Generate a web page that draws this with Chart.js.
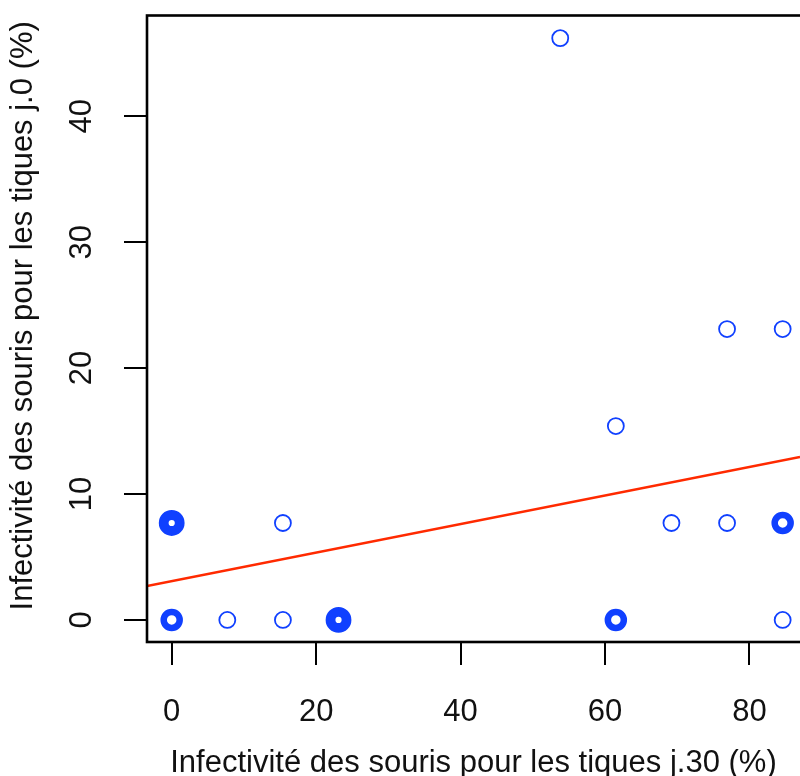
<!DOCTYPE html>
<html>
  <head>
    <title>Infectivité des souris</title>
    <script src="https://cdn.jsdelivr.net/npm/chart.js"></script>
    <style>
      body { margin: 0; background: #fff; }
      #wrap { width: 800px; height: 776px; }
    </style>
  </head>
  <body>
    <div id="wrap"><canvas id="myChart"></canvas></div>

    <script>
      // points: infectivity at day 30 (x) vs day 0 (y), in %
      const xVals = [0, 0, 7.7, 15.4, 15.4, 23.1, 53.8, 61.5, 61.5, 69.2, 76.9, 76.9, 84.6, 84.6, 84.6];
      const yVals = [0, 7.7, 0, 0, 7.7, 0, 46.2, 0, 15.4, 7.7, 7.7, 23.1, 0, 7.7, 23.1];
      // how many mice share each point (drawn as a thicker ring)
      const nObs = [2, 3, 1, 1, 1, 3, 1, 2, 1, 1, 1, 1, 1, 2, 1];

      // fitted line, read at the two edges of the plot
      const fitX = [-3.42, 87.0];
      const fitY = [2.7, 12.94];

      const xTicks = [0, 20, 40, 60, 80];
      const yTicks = [0, 10, 20, 30, 40];

      const xTitle = "Infectivité des souris pour les tiques j.30 (%)";
      const yTitle = "Infectivité des souris pour les tiques j.0 (%)";

      const ringWidth = { 1: 1.8, 2: 6.5, 3: 9.8 };
      const blue = "#1040ff";
      const red = "#ff2a00";
      const font = { family: "'Liberation Sans', Arial, sans-serif", size: 31 };

      const boxPlugin = {
        id: "box",
        afterDraw(chart) {
          const { ctx, chartArea: a } = chart;
          ctx.save();
          ctx.strokeStyle = "#000";
          ctx.lineWidth = 2.6;
          ctx.strokeRect(a.left, a.top, a.right - a.left + 10, a.bottom - a.top);
          ctx.restore();
        },
      };

      const ctx = document.getElementById("myChart").getContext("2d");
      new Chart(ctx, {
        type: "scatter",
        data: {
          datasets: [
            {
              type: "line",
              data: fitX.map((x, i) => ({ x: x, y: fitY[i] })),
              borderColor: red,
              borderWidth: 2.6,
              pointRadius: 0,
              fill: false,
            },
            {
              data: xVals.map((x, i) => ({ x: x, y: yVals[i] })),
              pointStyle: "circle",
              pointRadius: 8,
              pointHoverRadius: 8,
              backgroundColor: "rgba(0,0,0,0)",
              borderColor: blue,
              borderWidth: (c) => ringWidth[nObs[c.dataIndex]] || 1.8,
            },
          ],
        },
        options: {
          responsive: true,
          maintainAspectRatio: false,
          animation: false,
          layout: { autoPadding: false, padding: { top: 15.5, right: 0, left: 0, bottom: 0 } },
          plugins: { legend: { display: false }, tooltip: { enabled: false } },
          scales: {
            x: {
              type: "linear",
              min: -3.42,
              max: 87.0,
              afterBuildTicks: (s) => { s.ticks = xTicks.map((v) => ({ value: v })); },
              afterFit: (s) => {
                s.height = 134;
                s.paddingLeft = 0;
                s.paddingRight = 0;
              },
              border: { display: false },
              grid: { drawOnChartArea: false, drawTicks: true, tickLength: 23, color: "#000", lineWidth: 2 },
              ticks: { color: "#111", font: font, padding: 29, maxRotation: 0, autoSkip: false },
              title: { display: true, text: xTitle, color: "#111", font: font, padding: { top: 0, bottom: -5.6 } },
            },
            y: {
              type: "linear",
              min: -1.75,
              max: 48.0,
              afterBuildTicks: (s) => { s.ticks = yTicks.map((v) => ({ value: v })); },
              afterFit: (s) => {
                s.width = 147;
                s.paddingTop = 0;
                s.paddingBottom = 0;
              },
              border: { display: false },
              grid: { drawOnChartArea: false, drawTicks: true, tickLength: 23, color: "#000", lineWidth: 2 },
              ticks: {
                color: "#111",
                font: font,
                padding: 24,
                minRotation: 90,
                maxRotation: 90,
                crossAlign: "center",
                autoSkip: false,
              },
              // leading spaces nudge the title up, as in the original
              title: { display: true, text: "   " + yTitle, color: "#111", font: font, padding: { top: 4.4, bottom: 0 } },
            },
          },
        },
        plugins: [boxPlugin],
      });
    </script>
  </body>
</html>
